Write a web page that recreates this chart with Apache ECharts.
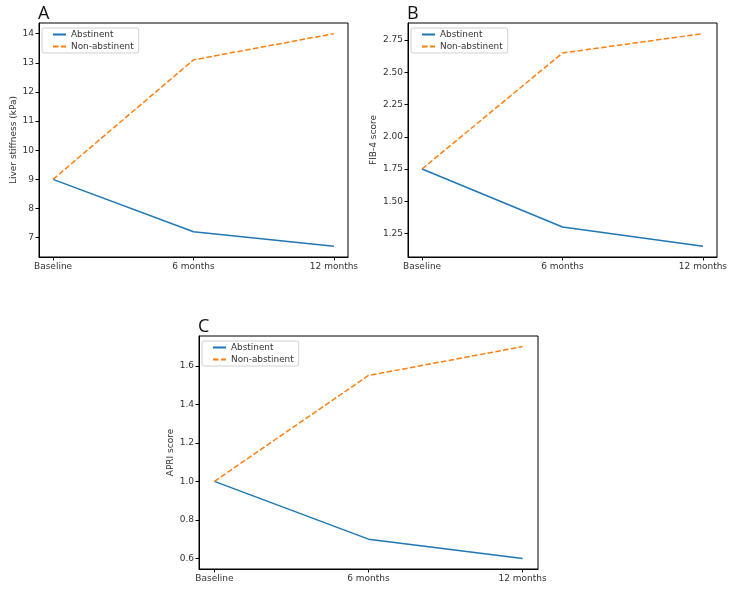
<!DOCTYPE html>
<html>
<head>
<meta charset="utf-8">
<script src="https://cdn.jsdelivr.net/npm/echarts@6/dist/echarts.min.js"></script>
<style>
  html, body { margin: 0; padding: 0; background: #fff; }
  #chart { width: 732px; height: 591px; }
</style>
</head>
<body>
<div id="chart"></div>
<script>
const timepoints = ["Baseline", "6 months", "12 months"];

const stiffnessAbstinent = [9.0, 7.2, 6.7];
const stiffnessNonAbstinent = [9.0, 13.1, 14.0];
const stiffnessTicks = [7, 8, 9, 10, 11, 12, 13, 14];

const fib4Abstinent = [1.75, 1.30, 1.15];
const fib4NonAbstinent = [1.75, 2.65, 2.80];
const fib4Ticks = [1.25, 1.5, 1.75, 2.0, 2.25, 2.5, 2.75];

const apriAbstinent = [1.0, 0.70, 0.60];
const apriNonAbstinent = [1.0, 1.55, 1.70];
const apriTicks = [0.6, 0.8, 1.0, 1.2, 1.4, 1.6];

const BLUE = "#1f77b4";
const ORANGE = "#ff7f0e";
const INK = "#333";
const FONT = '"DejaVu Sans", sans-serif';

// matplotlib-style 5% data margins
function padded(values) {
  const lo = Math.min(...values), hi = Math.max(...values);
  const m = (hi - lo) * 0.05;
  return [lo - m, hi + m];
}

const panels = [
  { title: "A", yName: "Liver stiffness (kPa)", abst: stiffnessAbstinent, non: stiffnessNonAbstinent,
    ticks: stiffnessTicks, digits: 0,
    grid: { left: 39, top: 23, width: 309, height: 234 }, nameGap: 21 },
  { title: "B", yName: "FIB-4 score", abst: fib4Abstinent, non: fib4NonAbstinent,
    ticks: fib4Ticks, digits: 2,
    grid: { left: 408, top: 23, width: 309, height: 234 }, nameGap: 30 },
  { title: "C", yName: "APRI score", abst: apriAbstinent, non: apriNonAbstinent,
    ticks: apriTicks, digits: 1,
    grid: { left: 199, top: 336, width: 339, height: 233 }, nameGap: 24 },
];

const xIdx = timepoints.map((_, i) => i);
const xExtent = padded(xIdx);

const option = {
  animation: false,
  backgroundColor: "#fff",
  textStyle: { fontFamily: FONT },
  title: panels.map(p => ({
    text: p.title,
    left: p.grid.left - 1,
    top: p.grid.top - 18,
    padding: 0,
    textStyle: { fontFamily: '"Open Sans", sans-serif', fontSize: 18, fontWeight: "normal", color: "#111" },
  })),
  legend: panels.map(p => ({
    orient: "vertical",
    left: p.grid.left + 3,
    top: p.grid.top + 5,
    data: ["Abstinent", "Non-abstinent"],
    itemWidth: 13,
    itemHeight: 8,
    itemGap: 3,
    padding: [2, 5, 2, 10],
    backgroundColor: "#fff",
    borderColor: "#d0d0d0",
    borderWidth: 1,
    borderRadius: 2,
    selectedMode: false,
    itemStyle: { opacity: 0 },
    textStyle: { fontFamily: FONT, fontSize: 8.9, color: INK },
  })),
  grid: panels.map(p => ({ ...p.grid, show: true, borderColor: "#000", borderWidth: 1 })),
  xAxis: panels.map((p, i) => ({
    type: "value",
    gridIndex: i,
    min: xExtent[0],
    max: xExtent[1],
    splitLine: { show: false },
    axisLine: { show: true, onZero: false, lineStyle: { color: "#000", width: 1 } },
    axisTick: { show: true, length: 3.5, customValues: xIdx, lineStyle: { color: "#000" } },
    axisLabel: {
      customValues: xIdx,
      formatter: v => timepoints[Math.round(v)],
      color: INK, fontFamily: FONT, fontSize: 9, margin: 5,
    },
  })),
  yAxis: panels.map((p, i) => {
    const ext = padded(p.abst.concat(p.non));
    return {
      type: "value",
      gridIndex: i,
      min: ext[0],
      max: ext[1],
      name: p.yName,
      nameLocation: "middle",
      nameGap: p.nameGap,
      nameTextStyle: { fontFamily: FONT, fontSize: 9, color: INK },
      splitLine: { show: false },
      axisLine: { show: true, onZero: false, lineStyle: { color: "#000", width: 1 } },
      axisTick: { show: true, length: 3.5, customValues: p.ticks, lineStyle: { color: "#000" } },
      axisLabel: {
        customValues: p.ticks,
        formatter: v => v.toFixed(p.digits),
        color: INK, fontFamily: FONT, fontSize: 9, margin: 5,
      },
    };
  }),
  series: panels.flatMap((p, i) => [
    {
      name: "Abstinent", type: "line", xAxisIndex: i, yAxisIndex: i,
      symbol: "none",
      data: p.abst.map((v, k) => [xIdx[k], v]),
      lineStyle: { color: BLUE, width: 1.5 },
      itemStyle: { color: BLUE },
    },
    {
      name: "Non-abstinent", type: "line", xAxisIndex: i, yAxisIndex: i,
      symbol: "none",
      data: p.non.map((v, k) => [xIdx[k], v]),
      lineStyle: { color: ORANGE, width: 1.5, type: [5.5, 2.4] },
      itemStyle: { color: ORANGE },
    },
  ]),
};

const chart = echarts.init(document.getElementById("chart"), null, { renderer: "canvas" });
chart.setOption(option);
</script>
</body>
</html>
